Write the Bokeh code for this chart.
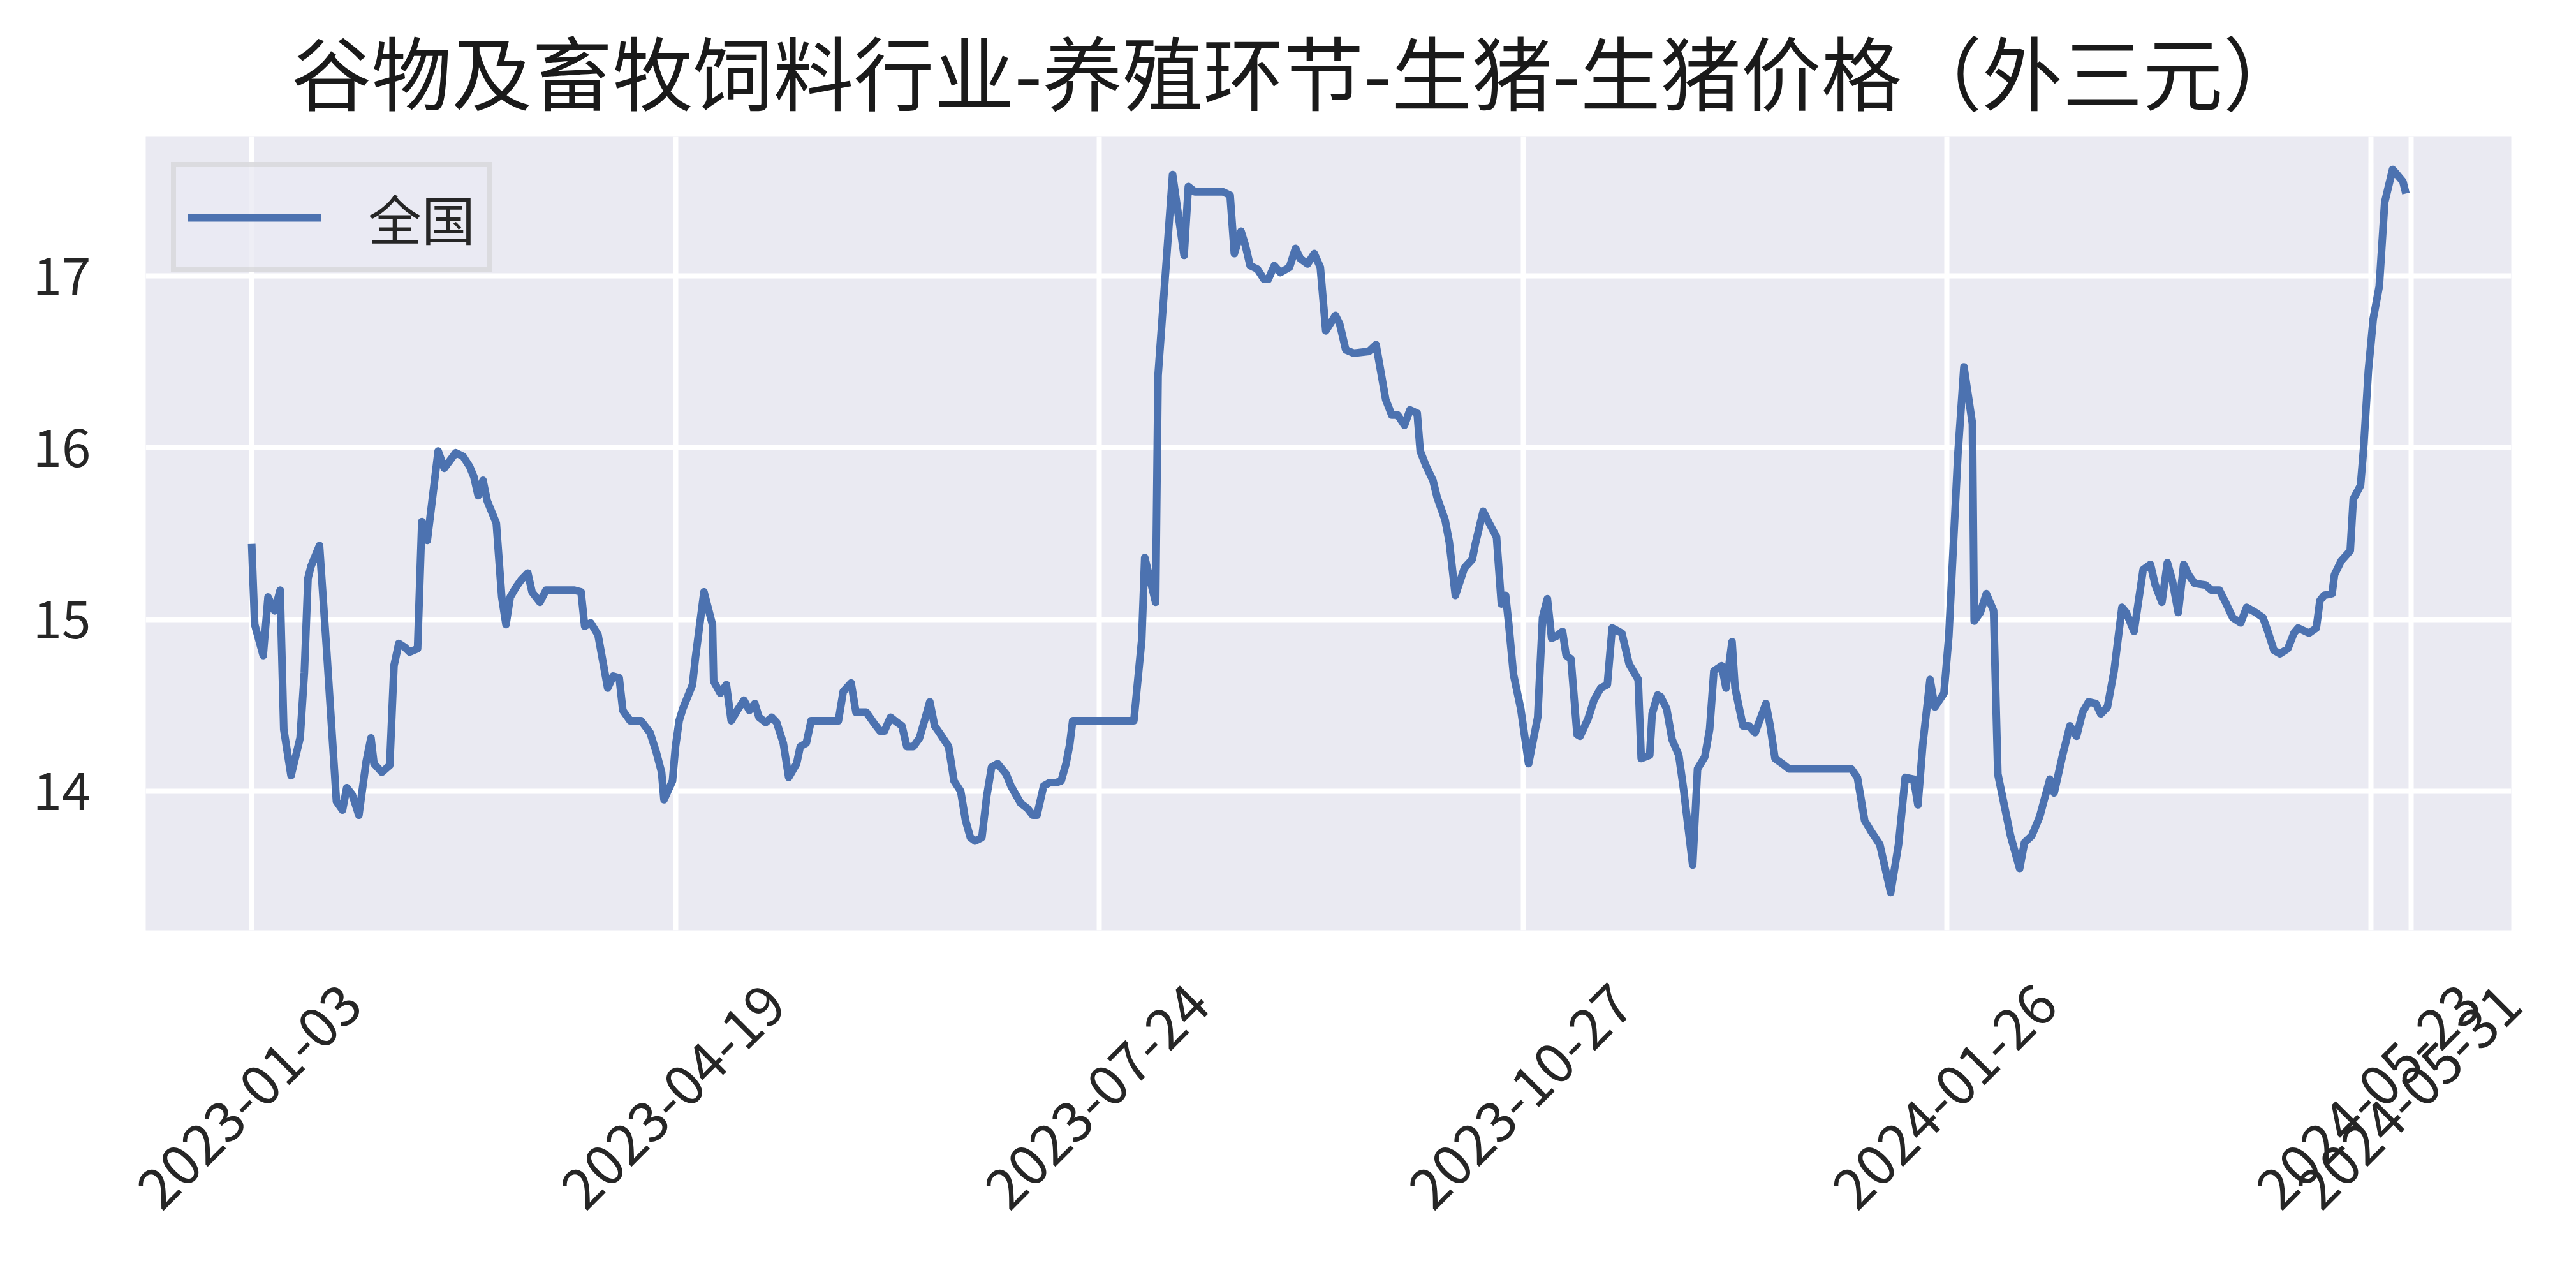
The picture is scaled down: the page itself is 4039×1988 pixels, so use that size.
from bokeh.plotting import figure
from bokeh.models import ColumnDataSource, FixedTicker, Range1d, Legend, LegendItem, LinearAxis
from bokeh.embed import file_html
from bokeh.resources import INLINE
import math

# 外三元生猪价格 (全国), x = trading-day position
pos = [0, 0.5, 1.9, 2.7, 3.8, 4.7, 5.3, 6.5, 8.0, 8.7, 9.3, 9.8, 11.2, 12.4, 14.0, 15.0, 15.7, 16.6, 17.7,
       18.9, 19.7, 20.2, 21.5, 22.8, 23.5, 24.3, 25.2, 26.1, 27.4, 28.1, 29.0, 29.9, 30.8, 31.8, 33.7, 34.9,
       36.0, 36.7, 37.4, 38.2, 38.9, 40.4, 41.3, 42.0, 42.7, 43.7, 44.5, 45.6, 46.3, 47.6, 48.6, 53.3, 54.4,
       55.0, 56.0, 57.2, 58.8, 59.7, 60.7, 61.3, 62.5, 64.3, 65.8, 66.8, 67.7, 68.1, 69.5, 70.0, 70.6, 71.2,
       72.8, 73.3, 74.7, 76.1, 76.3, 77.4, 78.4, 79.2, 80.2, 81.3, 82.2, 83.1, 83.8, 84.9, 85.9, 86.7, 87.8,
       88.7, 90.0, 90.6, 91.6, 92.4, 96.9, 97.7, 99.0, 99.8, 101.5, 102.9, 103.8, 104.5, 105.5, 106.6, 107.4,
       108.2, 109.3, 110.3, 111.2, 112.0, 112.8, 113.6, 115.1, 116.0, 117.1, 117.9, 118.7, 119.5, 120.6,
       121.4, 122.2, 123.2, 124.6, 125.4, 127.0, 128.1, 129.0, 129.7, 130.8, 131.8, 132.9, 133.7, 134.5,
       135.1, 135.6, 145.7, 147.0, 147.5, 149.3, 149.7, 152.1, 154.0, 154.7, 155.8, 160.4, 161.6, 162.3,
       163.4, 164.1, 164.9, 166.1, 167.2, 167.9, 168.9, 169.9, 171.4, 172.4, 173.2, 174.4, 175.5, 176.5,
       177.4, 179.0, 179.7, 180.7, 182.0, 184.5, 185.7, 186.5, 187.3, 188.3, 189.3, 190.4, 191.3, 192.5,
       193.0, 194.0, 195.1, 195.8, 197.1, 197.8, 198.8, 200.3, 201.6, 202.1, 203.4, 204.4, 205.6, 206.4,
       207.1, 207.6, 208.4, 209.6, 210.9, 212.4, 213.2, 214.0, 214.7, 215.4, 216.5, 217.1, 217.9, 218.9,
       219.4, 220.7, 221.7, 222.8, 223.9, 224.7, 226.3, 227.5, 229.0, 229.5, 230.9, 231.3, 232.2, 232.7,
       233.7, 234.6, 235.7, 236.5, 238.0, 238.8, 240.0, 240.8, 241.5, 242.8, 243.5, 244.5, 245.0, 246.3,
       247.3, 248.3, 250.1, 250.8, 251.6, 252.8, 253.9, 264.2, 265.2, 266.4, 267.4, 268.9, 270.7, 272.0,
       273.1, 274.5, 275.2, 276.0, 277.2, 278.0, 279.5, 280.3, 281.8, 282.8, 284.2, 284.5, 285.5, 286.5,
       287.7, 288.4, 290.5, 292.0, 292.8, 294.0, 295.3, 296.3, 297.0, 297.7, 299.1, 300.3, 301.4, 302.4,
       303.4, 304.6, 305.4, 306.5, 307.6, 308.9, 309.6, 310.9, 312.4, 313.6, 314.4, 315.5, 316.4, 317.2,
       318.2, 319.1, 319.9, 320.9, 322.7, 323.7, 325.0, 326.0, 327.2, 328.5, 329.5, 331.0, 332.2, 333.0,
       334.0, 335.0, 336.3, 337.3, 338.0, 339.8, 341.0, 341.6, 342.3, 343.6, 344.0, 345.1, 346.6, 347.1,
       348.3, 348.8, 349.6, 350.4, 351.4, 352.3, 353.6, 354.1, 355.3, 355.8]
price = [15.44, 14.97, 14.79, 15.13, 15.05, 15.17, 14.36, 14.09, 14.31, 14.69, 15.24, 15.31, 15.43, 14.81,
         13.94, 13.89, 14.02, 13.98, 13.86, 14.17, 14.31, 14.16, 14.11, 14.15, 14.73, 14.86, 14.84, 14.81,
         14.83, 15.57, 15.46, 15.72, 15.98, 15.88, 15.97, 15.95, 15.89, 15.83, 15.72, 15.81, 15.69, 15.56,
         15.13, 14.97, 15.13, 15.19, 15.23, 15.27, 15.16, 15.10, 15.17, 15.17, 15.16, 14.96, 14.98, 14.91,
         14.60, 14.67, 14.66, 14.47, 14.41, 14.41, 14.34, 14.23, 14.11, 13.95, 14.06, 14.26, 14.41, 14.48,
         14.62, 14.78, 15.16, 14.97, 14.64, 14.57, 14.62, 14.41, 14.47, 14.53, 14.47, 14.51, 14.43, 14.40,
         14.43, 14.40, 14.28, 14.08, 14.16, 14.26, 14.28, 14.41, 14.41, 14.58, 14.63, 14.46, 14.46, 14.39,
         14.35, 14.35, 14.43, 14.40, 14.38, 14.26, 14.26, 14.31, 14.42, 14.52, 14.38, 14.34, 14.26, 14.06,
         14.00, 13.83, 13.73, 13.71, 13.73, 13.97, 14.14, 14.16, 14.10, 14.03, 13.93, 13.90, 13.86, 13.86,
         14.03, 14.05, 14.05, 14.06, 14.16, 14.27, 14.41, 14.41, 14.88, 15.36, 15.10, 16.42, 17.59, 17.12,
         17.52, 17.49, 17.49, 17.47, 17.13, 17.26, 17.18, 17.06, 17.04, 16.98, 16.98, 17.06, 17.02, 17.05,
         17.16, 17.10, 17.07, 17.13, 17.05, 16.68, 16.77, 16.72, 16.57, 16.55, 16.56, 16.60, 16.44, 16.28,
         16.19, 16.19, 16.13, 16.22, 16.20, 15.98, 15.89, 15.81, 15.71, 15.58, 15.45, 15.14, 15.30, 15.35,
         15.44, 15.63, 15.56, 15.48, 15.09, 15.14, 14.98, 14.68, 14.48, 14.16, 14.43, 15.01, 15.12, 14.89,
         14.90, 14.93, 14.79, 14.77, 14.33, 14.32, 14.42, 14.53, 14.60, 14.62, 14.95, 14.92, 14.74, 14.65,
         14.19, 14.21, 14.45, 14.56, 14.55, 14.48, 14.30, 14.21, 14.01, 13.57, 14.13, 14.20, 14.36, 14.70,
         14.73, 14.60, 14.87, 14.60, 14.38, 14.38, 14.34, 14.51, 14.38, 14.19, 14.16, 14.13, 14.13, 14.08,
         13.83, 13.77, 13.69, 13.41, 13.69, 14.08, 14.07, 13.92, 14.27, 14.65, 14.49, 14.57, 14.90, 15.96,
         16.47, 16.14, 14.99, 15.04, 15.15, 15.05, 14.10, 13.74, 13.55, 13.70, 13.74, 13.85, 13.98, 14.07,
         13.99, 14.21, 14.38, 14.32, 14.46, 14.52, 14.51, 14.45, 14.49, 14.70, 15.07, 15.04, 14.93, 15.29,
         15.32, 15.20, 15.10, 15.33, 15.23, 15.04, 15.32, 15.26, 15.21, 15.20, 15.17, 15.17, 15.10, 15.01,
         14.98, 15.07, 15.04, 15.01, 14.93, 14.82, 14.80, 14.83, 14.92, 14.95, 14.92, 14.95, 15.11, 15.14,
         15.15, 15.26, 15.34, 15.40, 15.70, 15.78, 15.99, 16.45, 16.75, 16.94, 17.43, 17.62, 17.60, 17.55,
         17.48]

tick_pos = [0, 70, 140, 210, 280, 350, 356.7]
tick_labels = ["2023-01-03", "2023-04-19", "2023-07-24", "2023-10-27", "2024-01-26", "2024-05-23", "2024-05-31"]
y_ticks = [14, 15, 16, 17]

FONT = "Noto Sans CJK SC"
X0, X1 = -17.5, 373.2
LABEL_SHIFT = 16.4  # rotated labels are centred on their tick, not hung from it

source = ColumnDataSource(data=dict(pos=pos, price=price))

p = figure(width=4023, height=1972, output_backend="svg", toolbar_location=None,
           x_range=Range1d(X0, X1), y_range=Range1d(13.19, 17.81),
           min_border_left=228, min_border_right=86, min_border_top=208, min_border_bottom=514)

p.title.text = "谷物及畜牧饲料行业-养殖环节-生猪-生猪价格（外三元）"
p.title.text_font = FONT
p.title.text_font_size = "126px"
p.title.text_font_style = "normal"
p.title.text_color = "#1a1a1a"
p.title.align = "left"
p.title.offset = 228
p.title.standoff = 30

p.background_fill_color = "#eaeaf2"
p.border_fill_color = "white"
p.outline_line_color = None

r = p.line("pos", "price", source=source, line_color="#4c72b0", line_width=12, line_join="round")

p.xaxis.visible = False
p.xgrid.ticker = FixedTicker(ticks=tick_pos)
p.yaxis.ticker = FixedTicker(ticks=y_ticks)

p.extra_x_ranges = {"lab": Range1d(X0 - LABEL_SHIFT, X1 - LABEL_SHIFT)}
xax = LinearAxis(x_range_name="lab", ticker=FixedTicker(ticks=tick_pos))
xax.major_label_overrides = {t: l for t, l in zip(tick_pos, tick_labels)}
xax.major_label_orientation = math.pi / 4
xax.major_label_text_font = FONT
xax.major_label_text_font_size = "88px"
xax.major_label_text_color = "#262626"
xax.major_label_standoff = 100
p.add_layout(xax, "below")

for ax in (xax, p.yaxis[0]):
    ax.axis_line_color = None
    ax.major_tick_line_color = None
    ax.minor_tick_line_color = None
    ax.major_tick_out = 0
    ax.major_tick_in = 0
p.yaxis.major_label_text_font = FONT
p.yaxis.major_label_text_font_size = "82px"
p.yaxis.major_label_text_color = "#262626"
p.yaxis.major_label_standoff = 86

p.grid.grid_line_color = "white"
p.grid.grid_line_width = 8

legend = Legend(items=[LegendItem(label="全国", renderers=[r])], location="top_left")
legend.margin = 40
legend.padding = 18
legend.glyph_width = 209
legend.glyph_height = 80
legend.label_height = 80
legend.label_standoff = 74
legend.label_text_font = FONT
legend.label_text_font_size = "84px"
legend.label_text_color = "#262626"
legend.border_line_color = "#cccccc"
legend.border_line_width = 8
legend.background_fill_color = "#eaeaf2"
legend.background_fill_alpha = 0.8
p.add_layout(legend)

open("out.html", "w").write(file_html(p, INLINE))
